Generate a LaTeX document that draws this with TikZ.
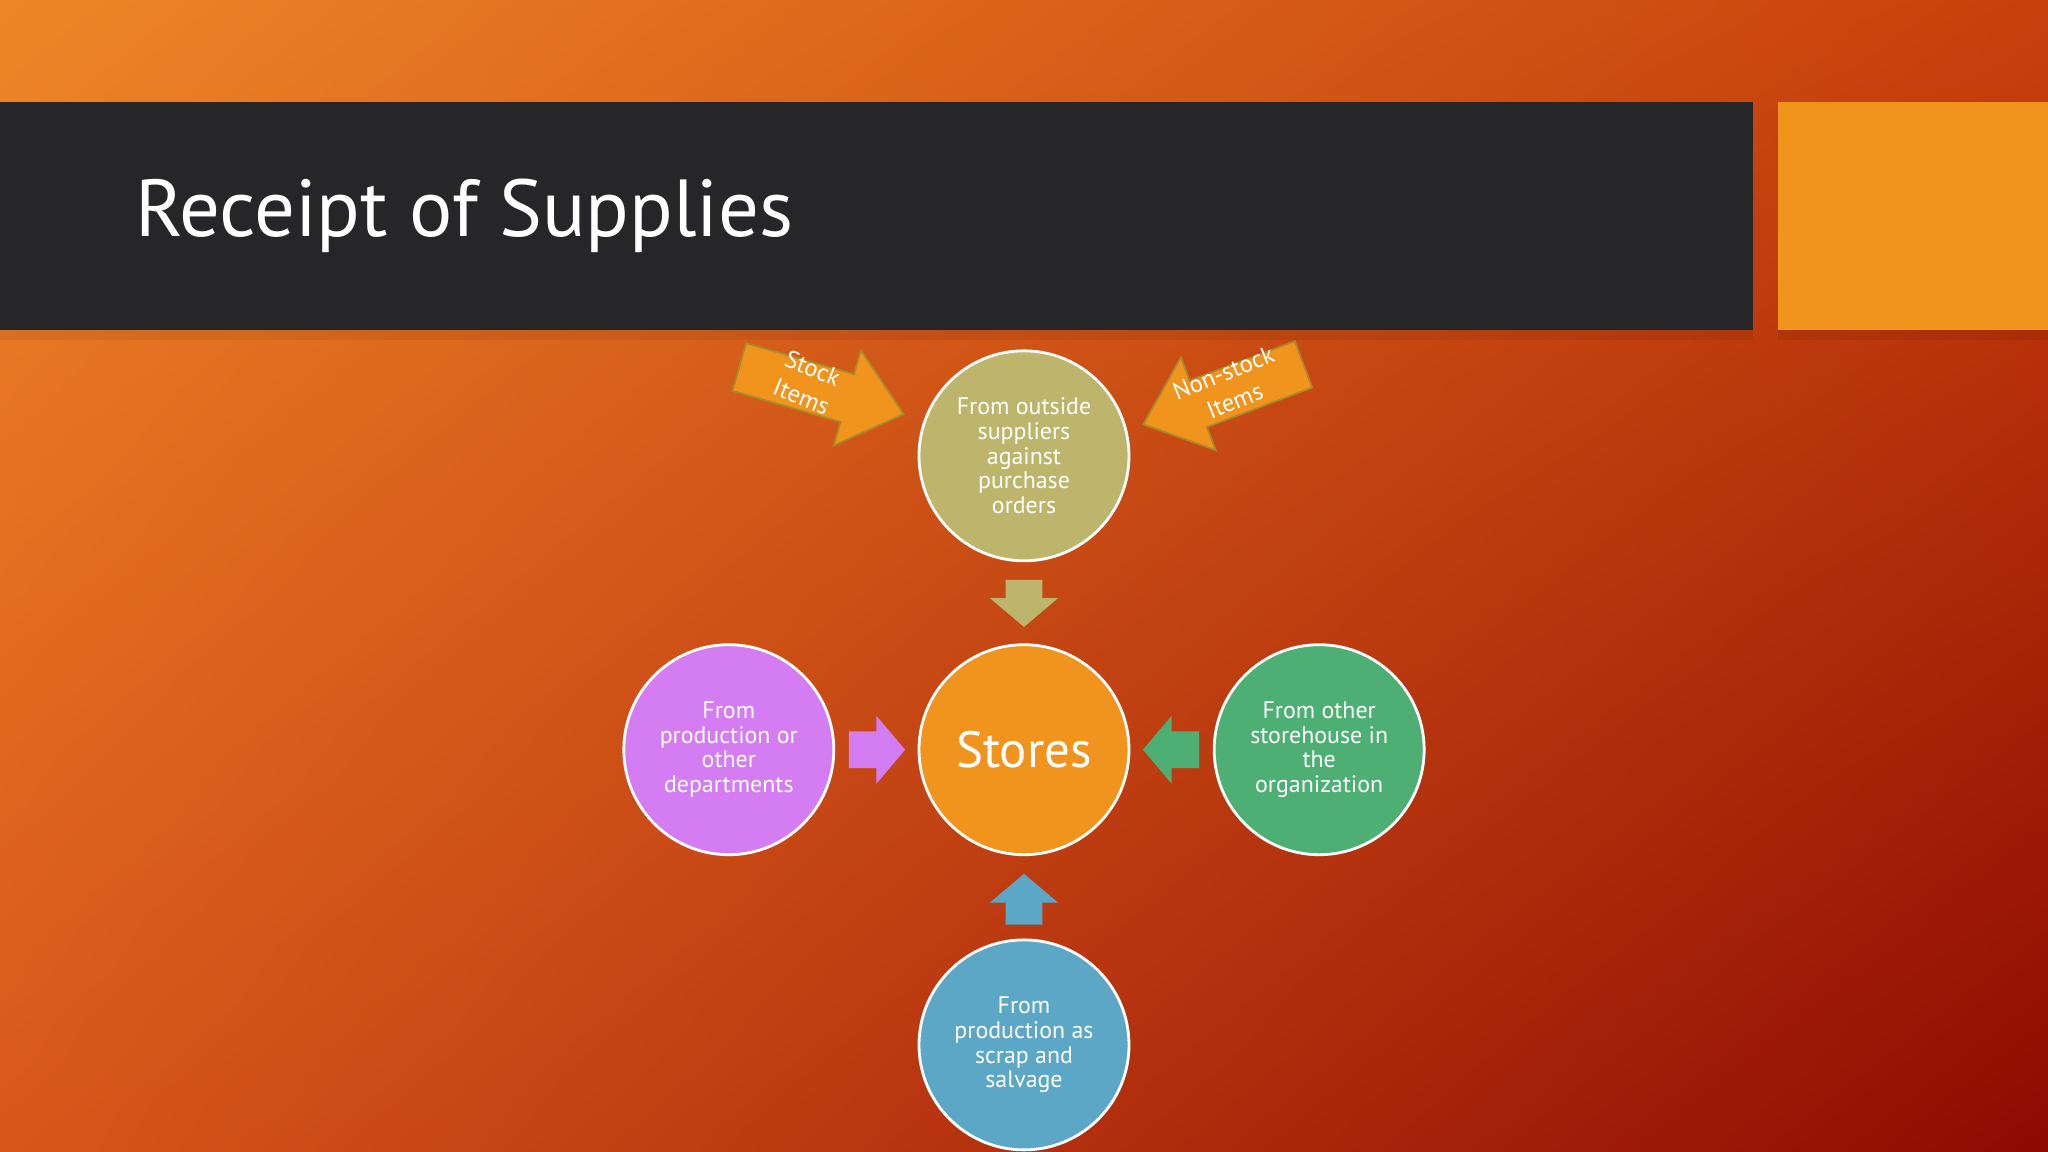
\documentclass[tikz,border=0pt]{standalone}
\usepackage{fontspec}
\setmainfont{PT Sans}
\usetikzlibrary{shadings}
\newcommand{\blockarr}[4]{%
 \fill[#4,shift={#1},rotate=#2] (0,-14) -- (#3-22,-14) -- (#3-22,-26) -- (#3,0) -- (#3-22,26) -- (#3-22,14) -- (0,14) -- cycle;}
\begin{document}
\begin{tikzpicture}[x=0.013061cm,y=-0.013061cm,
  circ/.style={circle,draw=white,line width=0.8pt,minimum size=2.1cm,inner sep=0pt,align=center,text=white,font=\fontsize{6.8}{7}\selectfont},
  lbl/.style={text=white,align=center,font=\fontsize{7}{8.6}\selectfont}]
\definecolor{bgA}{HTML}{EE8628}
\definecolor{bgB}{HTML}{C8400C}
\definecolor{bgC}{HTML}{D9561A}
\definecolor{bgD}{HTML}{8E0A02}
\definecolor{bar}{HTML}{262528}
\definecolor{orng}{HTML}{F0941E}
\definecolor{khaki}{HTML}{BEB56C}
\definecolor{viol}{HTML}{D47CF2}
\definecolor{grn}{HTML}{4DAF74}
\definecolor{blu}{HTML}{5BA7C5}
\definecolor{olive}{HTML}{A88A2C}
\useasboundingbox (0,0) rectangle (1568,882);
\shade[upper left=bgA,upper right=bgB,lower left=bgC,lower right=bgD] (0,0) rectangle (1568,882);
\fill[black,opacity=0.07] (0,253) rectangle (1342,260);
\fill[black,opacity=0.07] (1361,253) rectangle (1568,260);
\fill[bar] (0,78) rectangle (1342,253);
\fill[orng] (1361,78) rectangle (1568,253);
\node[anchor=west,text=white,font=\fontsize{23}{28}\selectfont] (title) at (94,165) {Receipt of Supplies};
\node[circ,fill=khaki] (top) at (784,349) {From outside\\suppliers\\against\\purchase\\orders};
\node[circ,fill=orng,font=\fontsize{14.5}{17}\selectfont] (st) at (784,574) {Stores};
\node[circ,fill=viol] (lf) at (558,574) {From\\production or\\other\\departments};
\node[circ,fill=grn] (rt) at (1010,574) {From other\\storehouse in\\the\\organization};
\node[circ,fill=blu] (bt) at (784,800) {From\\production as\\scrap and\\salvage};
\blockarr{(784,444)}{-90}{36}{khaki}
\blockarr{(650,574)}{0}{43}{viol}
\blockarr{(918,574)}{180}{43}{grn}
\blockarr{(784,708)}{90}{39}{blu}
\coordinate (sa) at (566,281);
\coordinate (na) at (998,279);
\fill[orng,draw=olive,line width=0.5pt,shift={(sa)},rotate=-16] (0,-19) -- (86,-19) -- (86,-38) -- (131,0) -- (86,38) -- (86,19) -- (0,19) -- cycle;
\fill[orng,draw=olive,line width=0.5pt,shift={(na)},rotate=-159.5] (0,-19) -- (86,-19) -- (86,-38) -- (131,0) -- (86,38) -- (86,19) -- (0,19) -- cycle;
\node[lbl,rotate=-22] (stock) at (618,293) {Stock\\Items};
\node[lbl,rotate=22] (nonstock) at (941,296) {Non-stock\\Items};
\end{tikzpicture}
\end{document}
